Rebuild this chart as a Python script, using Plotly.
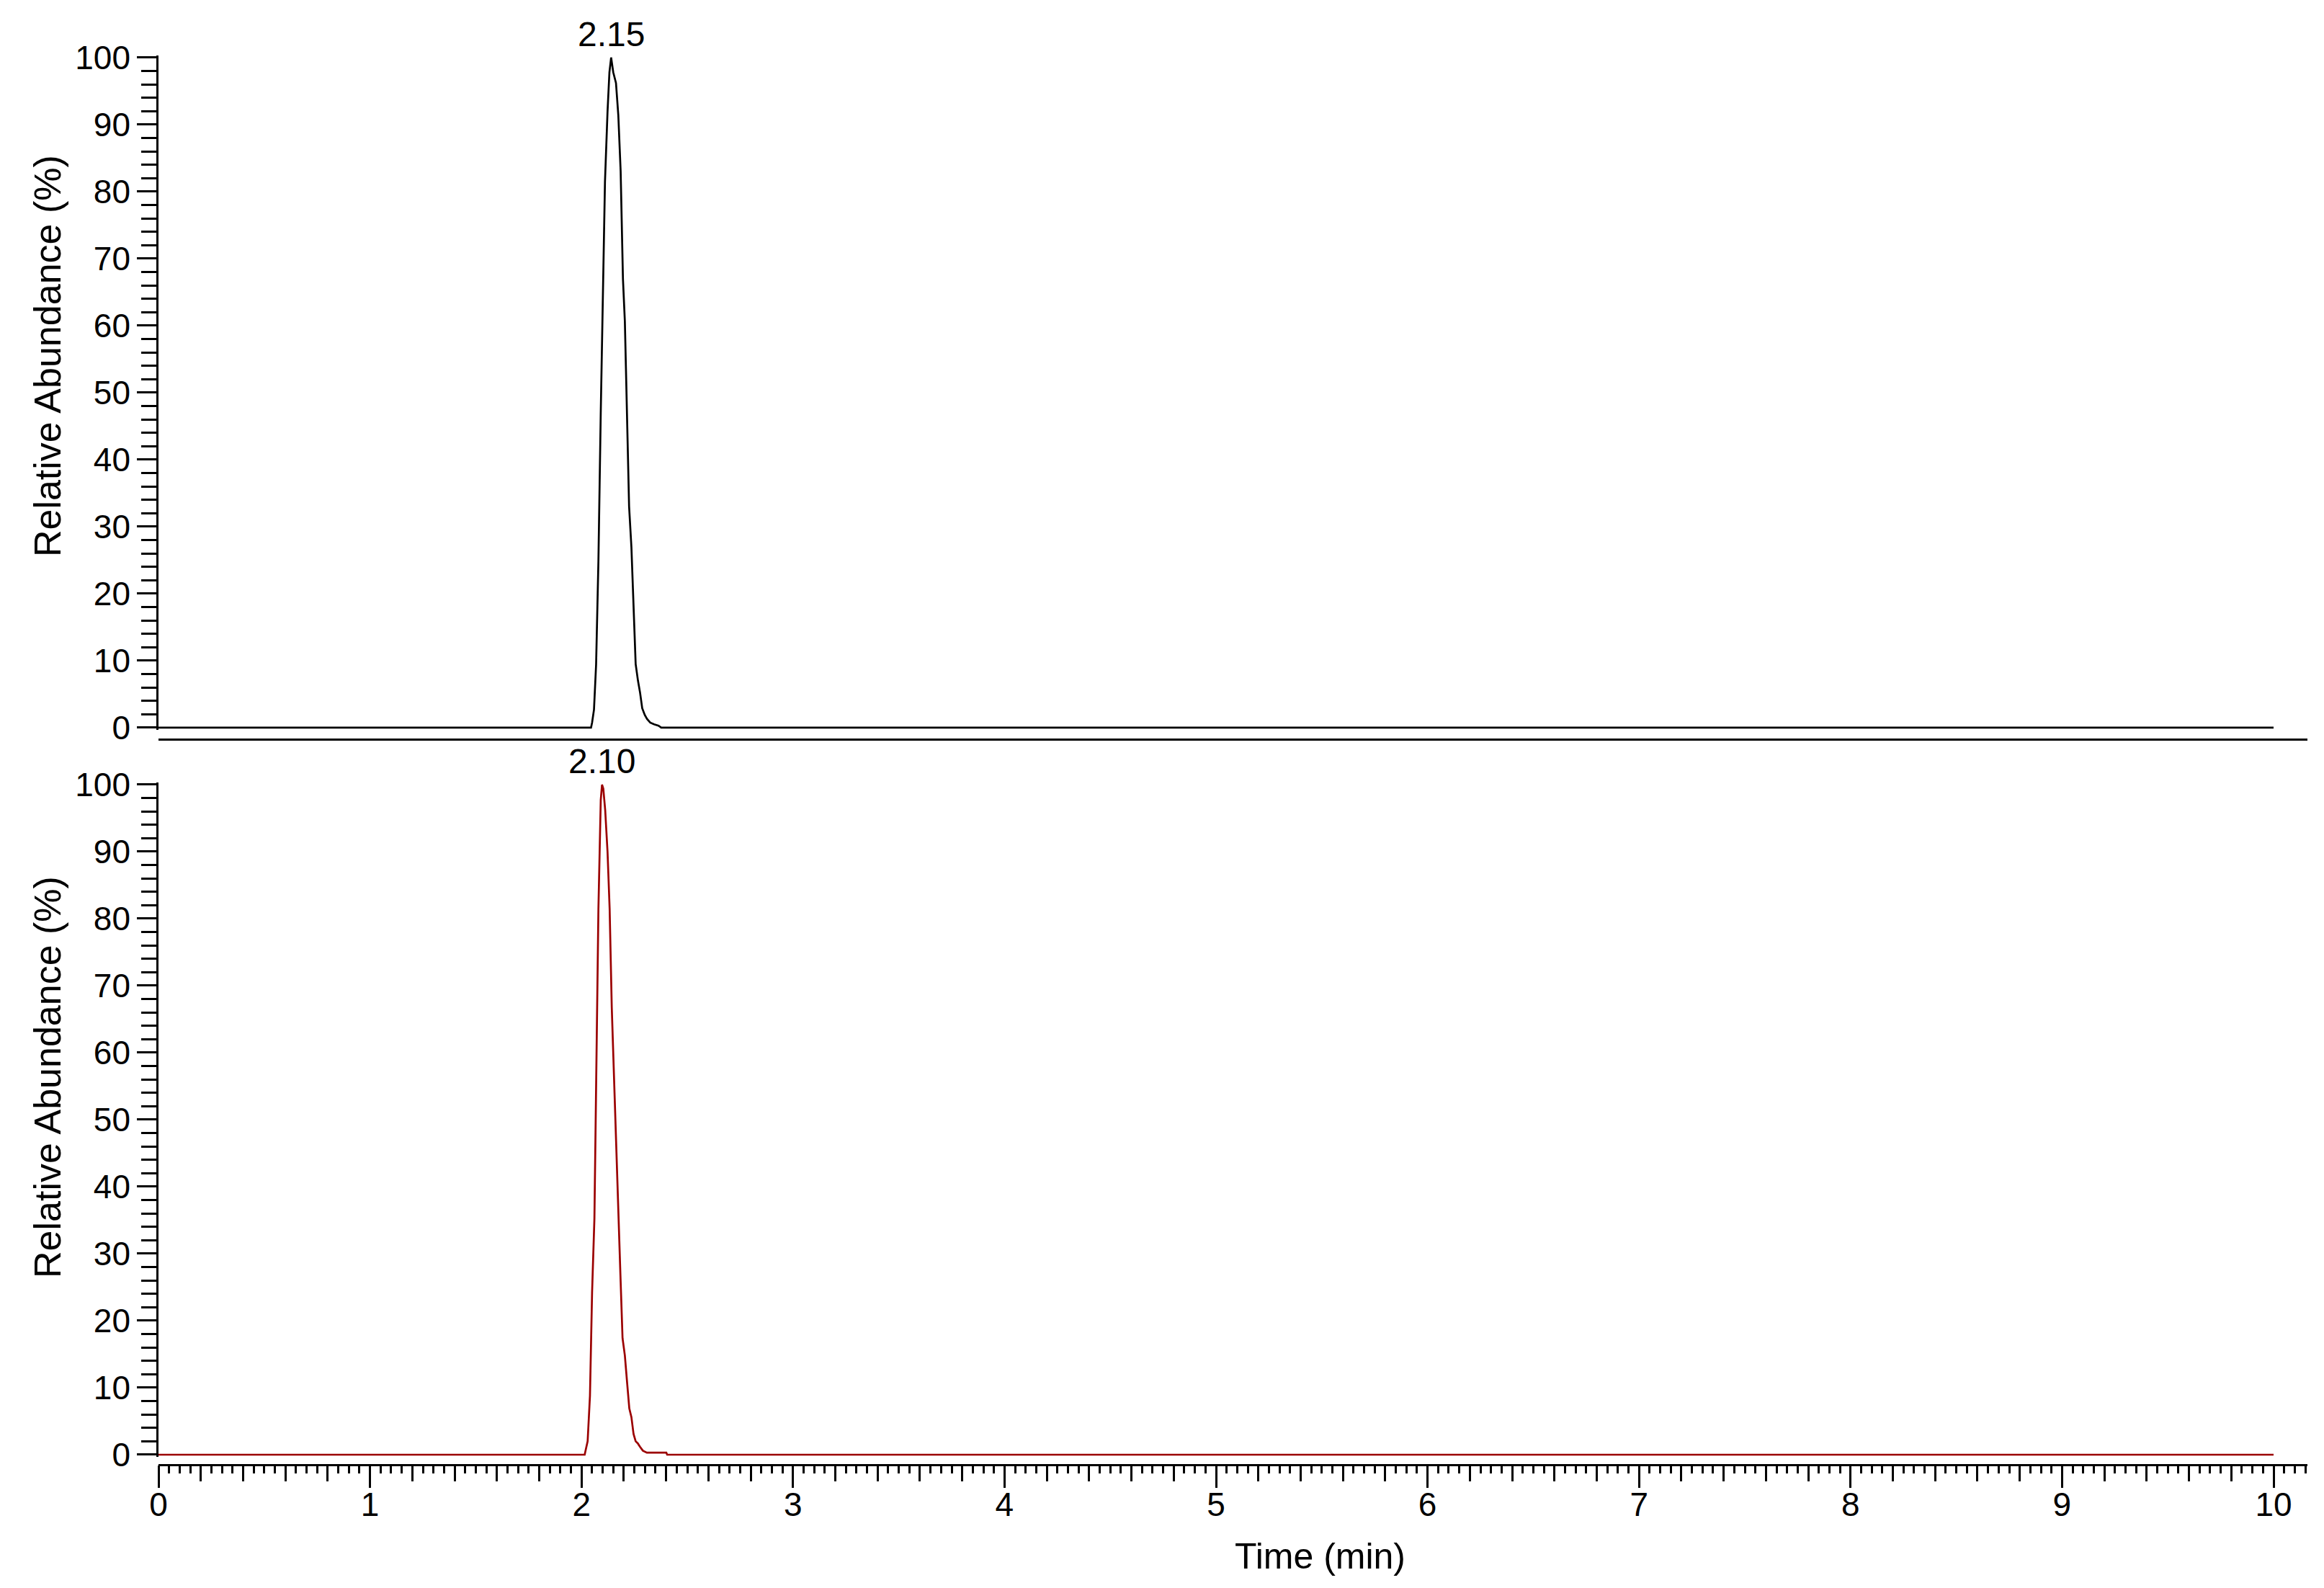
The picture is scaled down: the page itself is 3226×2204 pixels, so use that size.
import plotly.graph_objects as go

# chromatogram 1 (black trace) - retention time in min, relative abundance in %
top_time = [0.0, 2.045, 2.050, 2.059, 2.069, 2.080, 2.091, 2.102, 2.111, 2.123, 2.132,
            2.140, 2.150, 2.163, 2.174, 2.185, 2.196, 2.205, 2.215, 2.225, 2.236, 2.247,
            2.256, 2.267, 2.277, 2.287, 2.299, 2.310, 2.325, 2.343, 2.364, 2.377, 10.0]
top_abund = [0, 0, 0.75, 2.7, 9.4, 24.9, 47.0, 65.6, 81.5, 91.9, 97.8,
             100, 97.8, 96.2, 91.4, 83.1, 66.9, 60.6, 46.8, 33.0, 26.9, 17.0,
             9.5, 7.0, 5.2, 2.9, 1.9, 1.3, 0.75, 0.5, 0.3, 0, 0]

# chromatogram 2 (red trace)
bot_time = [0.0, 2.015, 2.019, 2.029, 2.040, 2.050, 2.061, 2.071, 2.080, 2.091, 2.097,
            2.103, 2.112, 2.123, 2.133, 2.143, 2.154, 2.164, 2.174, 2.184, 2.194, 2.205,
            2.216, 2.226, 2.236, 2.246, 2.256, 2.266, 2.276, 2.290, 2.309, 2.401, 2.405, 10.0]
bot_abund = [0, 0, 0.6, 2.0, 8.8, 24.2, 35.2, 58.2, 81.5, 97.7, 100,
             99.4, 96.2, 90.0, 81.5, 66.8, 55.4, 46.1, 35.2, 26.8, 17.4, 14.8,
             10.6, 6.9, 5.6, 3.1, 2.0, 1.7, 1.2, 0.6, 0.3, 0.3, 0, 0]

peak_labels = ["2.15", "2.10"]
x_ticks = list(range(0, 11))
y_ticks = list(range(0, 101, 10))

FONT = "Liberation Sans, Arial, sans-serif"
X_RANGE = [0, 10.16]
Y_RANGE = [-0.3, 100.3]

fig = go.Figure()
fig.add_trace(go.Scatter(x=top_time, y=top_abund, mode="lines",
                         line=dict(color="#000000", width=2.7),
                         xaxis="x", yaxis="y", showlegend=False))
fig.add_trace(go.Scatter(x=bot_time, y=bot_abund, mode="lines",
                         line=dict(color="#9b0000", width=2.7),
                         xaxis="x2", yaxis="y2", showlegend=False))
# dummy trace so the overlay axis (0.2 min ticks) gets drawn
fig.add_trace(go.Scatter(x=[], y=[], xaxis="x3", yaxis="y2", showlegend=False))

yaxis_common = dict(
    range=Y_RANGE, tickmode="array", tickvals=y_ticks, ticks="outside",
    ticklen=27, tickwidth=2.6, tickcolor="black",
    showline=True, linecolor="black", linewidth=2.6,
    showgrid=False, zeroline=False,
    tickfont=dict(family=FONT, size=46, color="black"),
    ticklabelstandoff=0,
    minor=dict(dtick=2, tick0=0, ticks="outside", ticklen=21, tickwidth=2.6, tickcolor="black"),
)

# page body adds ~8px offset, so margins are trimmed by 8 on left/top
fig.update_layout(
    width=3226, height=2204,
    margin=dict(l=212, r=31, t=69, b=179),
    plot_bgcolor="white", paper_bgcolor="white",
    xaxis=dict(range=X_RANGE, domain=[0, 1], anchor="free", position=0.5148,
               showline=True, linecolor="black", linewidth=2.6,
               ticks="", showticklabels=False, showgrid=False, zeroline=False),
    yaxis=dict(domain=[0.5216, 1.0], anchor="x", **yaxis_common),
    xaxis2=dict(range=X_RANGE, domain=[0, 1], anchor="free", position=0,
                showline=True, linecolor="black", linewidth=2.6,
                tickmode="array", tickvals=x_ticks, ticks="outside",
                ticklen=30, tickwidth=2.6, tickcolor="black",
                tickfont=dict(family=FONT, size=46, color="black"),
                ticklabelstandoff=-16,
                showgrid=False, zeroline=False,
                minor=dict(dtick=0.05, tick0=0, ticks="outside", ticklen=10,
                           tickwidth=2.6, tickcolor="black")),
    xaxis3=dict(range=X_RANGE, domain=[0, 1], anchor="free", position=0,
                overlaying="x2", tick0=0, dtick=0.2, ticks="outside",
                ticklen=22, tickwidth=2.6, tickcolor="black",
                showticklabels=False, showline=False, showgrid=False, zeroline=False),
    yaxis2=dict(domain=[0.00573, 0.48405], anchor="x2", **yaxis_common),
)

# retention time labels above each apex
for lbl, t, a, xr, yr in [(peak_labels[0], top_time, top_abund, "x", "y"),
                          (peak_labels[1], bot_time, bot_abund, "x2", "y2")]:
    i = a.index(max(a))
    fig.add_annotation(x=t[i], y=a[i], xref=xr, yref=yr, text=lbl, showarrow=False,
                       xanchor="center", yanchor="bottom", yshift=4,
                       font=dict(family=FONT, size=48, color="black"))

for ypos in [0.7868, 0.2751]:
    fig.add_annotation(x=-0.0516, y=ypos, xref="paper", yref="paper",
                       text="Relative Abundance (%)", textangle=-90, showarrow=False,
                       xanchor="center", yanchor="middle",
                       font=dict(family=FONT, size=52, color="black"))

fig.add_annotation(x=0.5407, y=-0.0649, xref="paper", yref="paper", text="Time (min)",
                   showarrow=False, xanchor="center", yanchor="middle",
                   font=dict(family=FONT, size=50, color="black"))

fig.write_html("out.html")
